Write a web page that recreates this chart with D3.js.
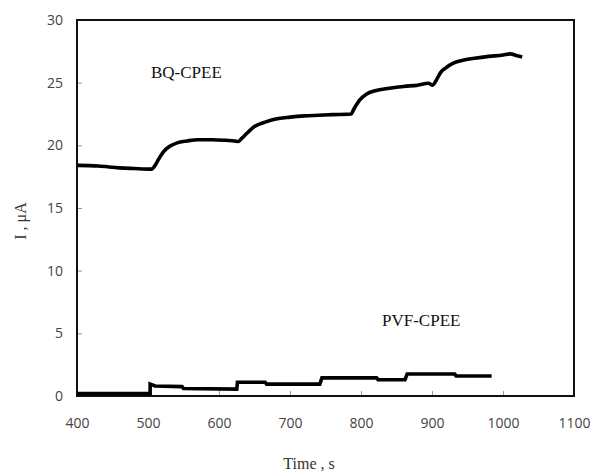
<!DOCTYPE html>
<html>
<head>
<meta charset="utf-8">
<script src="https://cdn.jsdelivr.net/npm/d3@7"></script>
<style>
  body { margin: 0; background: #fff; }
  svg { display: block; }
</style>
</head>
<body>
<div id="chart"></div>
<script>
// BQ-CPEE current trace, [time s, current uA]
const bqTime = [400, 430, 460, 480, 505, 510, 515, 522, 530, 541, 555, 570, 590, 610, 622, 627, 632, 640, 650, 665, 680, 700, 720, 740, 760, 786, 790, 798, 808, 820, 840, 860, 880, 895, 901, 906, 912, 920, 930, 945, 960, 980, 1000, 1010, 1020, 1027];
const bqCurrent = [18.4, 18.35, 18.2, 18.15, 18.1, 18.4, 18.9, 19.5, 19.9, 20.2, 20.35, 20.45, 20.45, 20.4, 20.35, 20.3, 20.55, 21.0, 21.5, 21.85, 22.1, 22.25, 22.35, 22.4, 22.45, 22.5, 22.9, 23.6, 24.1, 24.35, 24.55, 24.7, 24.8, 24.95, 24.8, 25.2, 25.8, 26.2, 26.55, 26.8, 26.95, 27.1, 27.2, 27.3, 27.15, 27.05];

// PVF-CPEE current trace (step-like)
const pvfTime = [400, 503, 503, 510, 548, 550, 625, 626, 665, 667, 742, 745, 822, 824, 862, 865, 932, 934, 984];
const pvfCurrent = [0.2, 0.2, 0.95, 0.8, 0.75, 0.6, 0.55, 1.1, 1.1, 0.95, 0.95, 1.45, 1.45, 1.3, 1.3, 1.75, 1.75, 1.6, 1.6];

const xTicks = [400, 500, 600, 700, 800, 900, 1000, 1100];
const yTicks = [0, 5, 10, 15, 20, 25, 30];

const width = 591, height = 475;
const margin = { top: 20, right: 17, bottom: 79, left: 77 };

const svg = d3.select('#chart').append('svg')
  .attr('width', width).attr('height', height);

const x = d3.scaleLinear().domain([400, 1100]).range([margin.left, width - margin.right]);
const y = d3.scaleLinear().domain([0, 30]).range([height - margin.bottom, margin.top]);

// tick marks pointing inward
const xAxis = svg.append('g')
  .attr('transform', `translate(0,${height - margin.bottom})`)
  .call(d3.axisBottom(x).tickValues(xTicks).tickFormat(d3.format('d')).tickSize(-5).tickPadding(22));
const yAxis = svg.append('g')
  .attr('transform', `translate(${margin.left},0)`)
  .call(d3.axisLeft(y).tickValues(yTicks).tickFormat(d3.format('d')).tickSize(-5).tickPadding(14));

[xAxis, yAxis].forEach(g => {
  g.select('.domain').remove();
  g.selectAll('.tick line').attr('stroke', '#999').attr('stroke-width', 1);
  g.selectAll('.tick text')
    .style('font-family', '"Open Sans", sans-serif')
    .style('font-size', '14px')
    .attr('fill', '#444');
});

// frame
svg.append('rect')
  .attr('x', x(400)).attr('y', y(30))
  .attr('width', x(1100) - x(400)).attr('height', y(0) - y(30))
  .attr('fill', 'none').attr('stroke', '#111').attr('stroke-width', 2);

svg.append('path')
  .datum(d3.zip(bqTime, bqCurrent))
  .attr('fill', 'none').attr('stroke', '#000').attr('stroke-width', 3.6)
  .attr('stroke-linejoin', 'round')
  .attr('d', d3.line().x(d => x(d[0])).y(d => y(d[1])).curve(d3.curveMonotoneX));

svg.append('path')
  .datum(d3.zip(pvfTime, pvfCurrent))
  .attr('fill', 'none').attr('stroke', '#000').attr('stroke-width', 3.6)
  .attr('d', d3.line().x(d => x(d[0])).y(d => y(d[1])));

// labels
const serif = '"Liberation Serif", "Times New Roman", serif';
svg.append('text')
  .attr('x', 151).attr('y', 78)
  .style('font-family', serif).style('font-size', '17px')
  .attr('fill', '#111')
  .text('BQ-CPEE');
svg.append('text')
  .attr('x', 382).attr('y', 326)
  .style('font-family', serif).style('font-size', '17px')
  .attr('fill', '#111')
  .text('PVF-CPEE');

svg.append('text')
  .attr('x', 309).attr('y', 469)
  .attr('text-anchor', 'middle')
  .style('font-family', serif).style('font-size', '16px')
  .attr('fill', '#333')
  .text('Time , s');
svg.append('text')
  .attr('transform', 'translate(26,221) rotate(-90)')
  .attr('text-anchor', 'middle')
  .style('font-family', serif).style('font-size', '16px')
  .attr('fill', '#333')
  .text('I , μA');
</script>
</body>
</html>
